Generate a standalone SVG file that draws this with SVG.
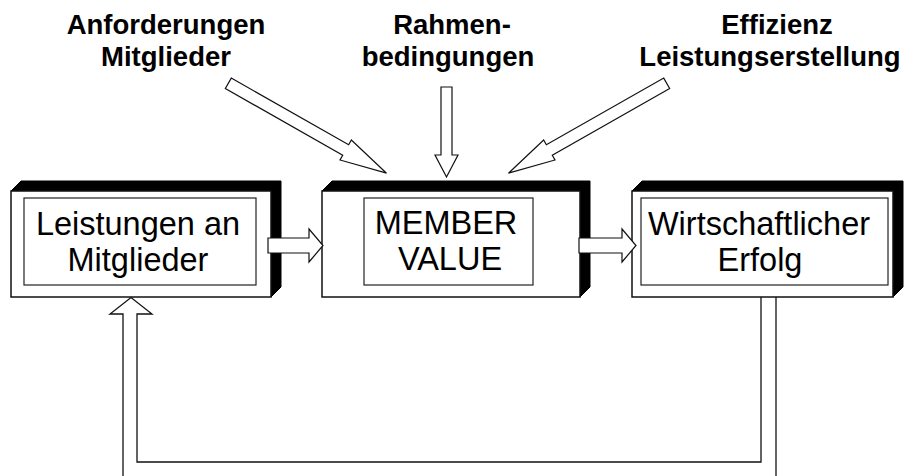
<svg xmlns="http://www.w3.org/2000/svg" width="914" height="476" viewBox="0 0 914 476">
<style>
.depth{fill:#000;stroke:#000;stroke-width:1}
.front{fill:#fff;stroke:#111;stroke-width:1.5}
.inner{fill:#fff;stroke:#222;stroke-width:1.2}
.box{font-family:"Liberation Sans",Arial,sans-serif;font-size:32.5px;fill:#000;text-anchor:middle}
.lbl{font-family:"Liberation Sans",Arial,sans-serif;font-size:27.5px;font-weight:bold;fill:#000;text-anchor:middle}
.arr{fill:#fff;stroke:#111;stroke-width:1.2;stroke-linejoin:miter}
.pipe{fill:none;stroke:#111;stroke-width:1.3}
</style>
<rect width="914" height="476" fill="#fff"/>
<g id="label-anforderungen">
<text class="lbl" x="166" y="34">Anforderungen</text>
<text class="lbl" x="166" y="66">Mitglieder</text>
</g>
<g id="label-rahmen">
<text class="lbl" x="452" y="34">Rahmen-</text>
<text class="lbl" x="448" y="66">bedingungen</text>
</g>
<g id="label-effizienz">
<text class="lbl" x="777" y="34">Effizienz</text>
<text class="lbl" x="770" y="66">Leistungserstellung</text>
</g>
<g id="node-leistungen">
<polygon class="depth" points="11,191 21,181 281,181 281,287 271,297 271,191"/>
<rect class="front" x="11" y="191" width="260" height="106"/>
<rect class="inner" x="24" y="198" width="232" height="87"/>
<text class="box" x="138" y="235">Leistungen an</text>
<text class="box" x="138" y="271">Mitglieder</text>
</g>
<g id="node-member">
<polygon class="depth" points="322,191 332,181 590,181 590,287 580,297 580,191"/>
<rect class="front" x="322" y="191" width="258" height="106"/>
<rect class="inner" x="364" y="198" width="169" height="87"/>
<text class="box" x="446" y="234">MEMBER</text>
<text class="box" x="450" y="270">VALUE</text>
</g>
<g id="node-erfolg">
<polygon class="depth" points="632,191 642,181 903,181 903,287 893,297 893,191"/>
<rect class="front" x="632" y="191" width="261" height="106"/>
<rect class="inner" x="641" y="198" width="247" height="87"/>
<text class="box" x="759" y="235">Wirtschaftlicher</text>
<text class="box" x="760" y="271">Erfolg</text>
</g>
<g id="connectors">
<polygon class="arr" points="268,238 309,238 309,229 323,245.5 309,262 309,253 268,253"/>
<polygon class="arr" points="579,238 622,238 622,229 636,245.5 622,262 622,253 579,253"/>
<polygon class="arr" points="441,87 452,87 452,155 458,155 446.5,177 435,155 441,155"/>
<polygon class="arr" transform="translate(228.3,83.3) rotate(29.6)" points="0,-6 135,-6 135,-11.5 182,0 135,11.5 135,6 0,6"/>
<polygon class="arr" transform="translate(666.7,83.3) rotate(150.4)" points="0,-6 135,-6 135,-11.5 182,0 135,11.5 135,6 0,6"/>
<path class="pipe" d="M123,477 V314 H110 L131,297.5 L152,314 H137 V462 H761 V297"/>
<path class="pipe" d="M776,297 V477"/>
</g>
</svg>
